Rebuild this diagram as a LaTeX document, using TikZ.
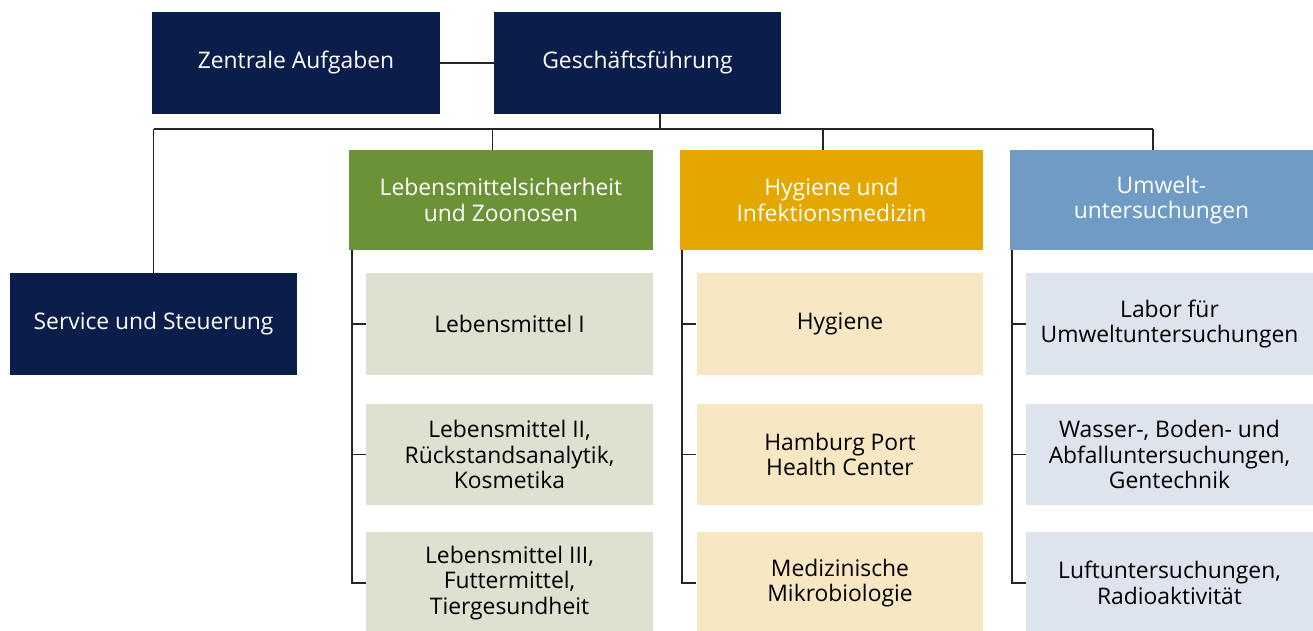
\documentclass[tikz,border=0pt]{standalone}
\usepackage{fontspec}
\setmainfont{Open Sans}
\usetikzlibrary{calc}
\definecolor{navy}{HTML}{0B1D4A}
\definecolor{gruen}{HTML}{6B9236}
\definecolor{gelb}{HTML}{E3A700}
\definecolor{blau}{HTML}{6F9BC4}
\definecolor{gruenhell}{HTML}{DFE0D0}
\definecolor{gelbhell}{HTML}{F8E7C3}
\definecolor{blauhell}{HTML}{DDE4EE}
\tikzset{
  kasten/.style={rectangle, inner sep=2pt, align=center, font=\fontsize{13}{14.4}\selectfont},
  leitung/.style={kasten, fill=navy, text=white, minimum height=2.04cm},
  bereich/.style={kasten, text=white, minimum width=6.08cm, minimum height=2cm},
  abteilung/.style={kasten, text=black, minimum width=5.74cm, minimum height=2.04cm},
  verbinder/.style={line width=1pt, black!85},
}

\begin{document}
\begin{tikzpicture}[x=0.02cm, y=-0.02cm]
			%%%%% START %%%%%
			\useasboundingbox (0, 0) rectangle (1313, 631);
			
			\node[leitung, minimum width=5.76cm] (zentral) at (296, 63) {Zentrale Aufgaben};
			\node[leitung, minimum width=5.74cm] (gf) at (637.5, 63) {Geschäftsführung};
			\node[leitung, minimum width=5.74cm] (service) at (153.5, 324) {Service und Steuerung};
			
			\node[bereich, fill=gruen] (lmz) at (501, 200) {Lebensmittelsicherheit\\und Zoonosen};
			\node[bereich, fill=gelb] (hyg) at (831.5, 200) {Hygiene und\\Infektionsmedizin};
			\node[bereich, fill=blau] (umw) at (1161.5, 200) {Umwelt-\\untersuchungen};
			
			\node[abteilung, fill=gruenhell] (lm1) at (509.5, 324) {Lebensmittel I};
			\node[abteilung, fill=gruenhell] (lm2) at (509.5, 454.5) {Lebensmittel II,\\Rückstandsanalytik,\\Kosmetika};
			\node[abteilung, fill=gruenhell] (lm3) at (509.5, 583) {Lebensmittel III,\\Futtermittel,\\Tiergesundheit};
			
			\node[abteilung, fill=gelbhell] (hy1) at (840, 324) {Hygiene};
			\node[abteilung, fill=gelbhell] (hy2) at (840, 454.5) {Hamburg Port\\Health Center};
			\node[abteilung, fill=gelbhell] (hy3) at (840, 583) {Medizinische\\Mikrobiologie};
			
			\node[abteilung, fill=blauhell] (uw1) at (1169.5, 324) {Labor für\\Umweltuntersuchungen};
			\node[abteilung, fill=blauhell] (uw2) at (1169.5, 454.5) {Wasser-, Boden- und\\Abfalluntersuchungen,\\Gentechnik};
			\node[abteilung, fill=blauhell] (uw3) at (1169.5, 583) {Luftuntersuchungen,\\Radioaktivität};
			
			% Leitungsebene
			\draw[verbinder] (zentral) -- (gf);
			\coordinate (gfab) at ($(gf.south)+(22.5, 0)$);
			\coordinate (busL) at (service.north |- 0, 129);
			\coordinate (busR) at ($(umw.north)+(-8.5, 0)$);
			\draw[verbinder] (gfab) -- (gfab |- busL);
			\draw[verbinder] (busL) -- (busL -| busR);
			\draw[verbinder] (busL) -- (service.north);
			
			% Bereiche
			\foreach \b in {lmz, hyg, umw} {
				\coordinate (\b n) at ($(\b.north)+(-8.5, 0)$);
				\draw[verbinder] (\b n |- busL) -- (\b n);
			}
			
			% Abteilungen
			\foreach \b/\eins/\zwei/\drei in {lmz/lm1/lm2/lm3, hyg/hy1/hy2/hy3, umw/uw1/uw2/uw3} {
				\coordinate (\b s) at ($(\b.south west)+(3, 0)$);
				\draw[verbinder] (\b s) |- (\drei.west);
				\draw[verbinder] (\b s |- \eins.west) -- (\eins.west);
				\draw[verbinder] (\b s |- \zwei.west) -- (\zwei.west);
			}
			%%%%% END %%%%%
		\end{tikzpicture}
\end{document}
